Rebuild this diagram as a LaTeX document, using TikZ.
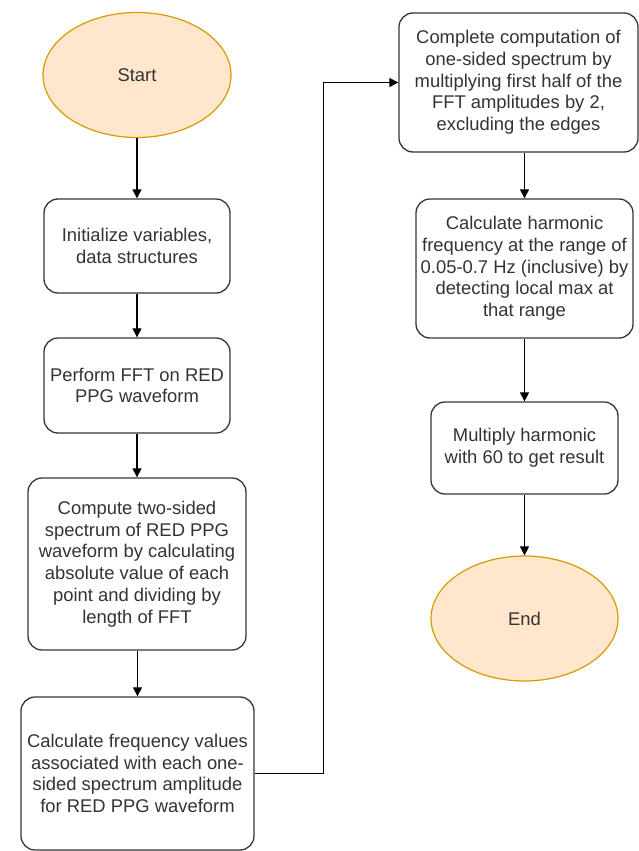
\documentclass[tikz,border=0pt]{standalone}
\usepackage{fontspec}
\setmainfont{Liberation Sans}
\usetikzlibrary{shapes.geometric,arrows.meta}

\definecolor{termfill}{HTML}{FFE6CC}
\definecolor{termline}{HTML}{D79B00}
\definecolor{boxline}{HTML}{363636}
\definecolor{txt}{HTML}{333333}

\begin{document}
\begin{tikzpicture}[x=1pt,y=-1pt]
        \tikzstyle{every node} = [text=txt, align=center, inner sep=0pt,
            font=\fontsize{18.4}{21.7}\selectfont]
        \tikzstyle{term} = [draw=termline, fill=termfill, line width=1.2pt, shape=ellipse]
        \tikzstyle{process} = [draw=boxline, line width=1.3pt, rounded corners=14pt, shape=rectangle]
        \useasboundingbox (0,0) rectangle (639,851);
        % left column
        \node[term, minimum width=188, minimum height=125] (start) at (137,75) {Start};
        \node[process, minimum width=186, minimum height=94] (init) at (137,246)
            {Initialize variables,\\ data structures};
        \node[process, minimum width=186, minimum height=95] (fft) at (137,385.5)
            {Perform FFT on RED\\ PPG waveform};
        \node[process, minimum width=218, minimum height=172] (twosided) at (137,564)
            {Compute two-sided\\ spectrum of RED PPG\\ waveform by calculating\\ absolute value of each\\ point and dividing by\\ length of FFT};
        \node[process, minimum width=233, minimum height=153] (freq) at (137.5,773.5)
            {Calculate frequency values\\ associated with each one-\\ sided spectrum amplitude\\ for RED PPG waveform};
        % right column
        \node[process, minimum width=239, minimum height=139] (onesided) at (518.5,82.5)
            {Complete computation of\\ one-sided spectrum by\\ multiplying first half of the\\ FFT amplitudes by 2,\\ excluding the edges};
        \node[process, minimum width=217, minimum height=139] (harm) at (524.5,268.5)
            {Calculate harmonic\\ frequency at the range of\\ 0.05-0.7 Hz (inclusive) by\\ detecting local max at\\ that range};
        \node[process, minimum width=187, minimum height=92] (mult) at (524.5,448)
            {Multiply harmonic\\ with 60 to get result};
        \node[term, minimum width=187, minimum height=125] (end) at (524.5,618.5) {End};
        \tikzstyle{flow} = [draw=black, line width=1.1pt, -{Triangle[width=9pt,length=9pt]}]
        \foreach \from/\to in {start/init, init/fft, fft/twosided, twosided/freq,
                onesided/harm, harm/mult, mult/end}
            \draw[flow] (\from.south -| \to.north) -- (\to.north);
        \draw[flow] (freq.east) -- ++(69,0) |- (onesided.west);
    \end{tikzpicture}
\end{document}
